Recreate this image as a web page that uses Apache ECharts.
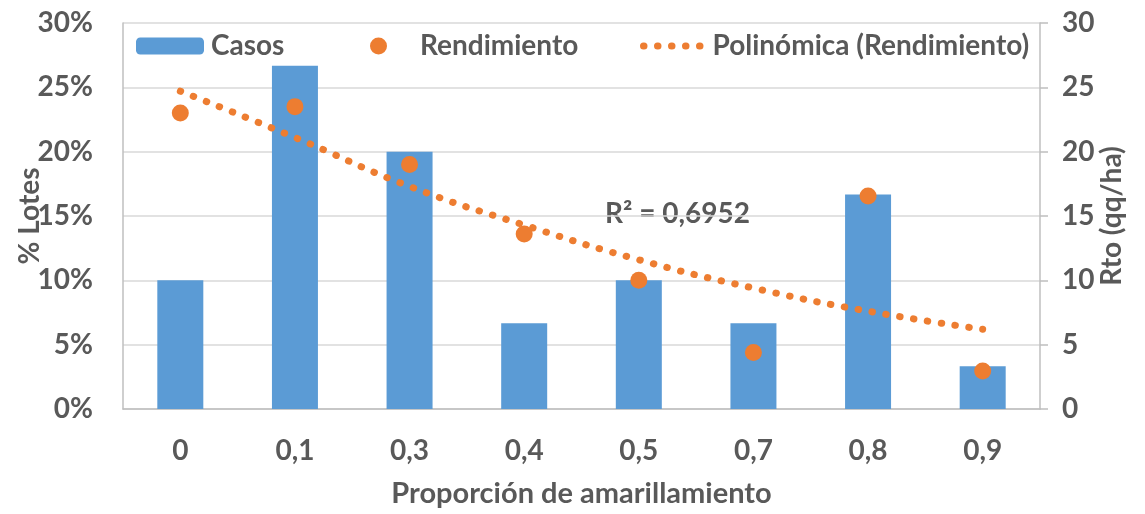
<!DOCTYPE html>
<html><head><meta charset="utf-8">
<script src="https://cdn.jsdelivr.net/npm/echarts@6/dist/echarts.min.js"></script>
<style>html,body{margin:0;padding:0;background:#fff}#c{width:1145px;height:514px}</style>
</head><body><div id="c"></div>
<script>
const categories = ['0','0,1','0,3','0,4','0,5','0,7','0,8','0,9'];
const casos = [10, 26.67, 20, 6.67, 10, 6.67, 16.67, 3.33];
const rendimiento = [23.0, 23.5, 19.0, 13.6, 10.0, 4.4, 16.55, 2.95];
const tendencia = [24.7, 21.1, 17.3, 14.3, 11.6, 9.4, 7.6, 6.2];
const leftTicks = [0, 5, 10, 15, 20, 25, 30];
const rightTicks = [0, 5, 10, 15, 20, 25, 30];
const r2Text = 'R² = 0,6952';

const FONT = 'Lato';
const TXT = '#595959';
const chart = echarts.init(document.getElementById('c'), null, {renderer:'canvas'});
const lf = {fontFamily: FONT, fontWeight: 'bold', fontSize: 28, color: TXT};
const dotLine = {color: '#ed7d31', width: 7, type: [0.5, 13.5], cap: 'round'};
chart.setOption({
  animation: false,
  textStyle: {fontFamily: FONT},
  grid: {left: 123, right: 105, top: 23, bottom: 105, containLabel: false, outerBoundsMode: 'none'},
  legend: [
    {data: ['Casos'], left: 131, top: 27, itemWidth: 68, itemHeight: 17, textStyle: {...lf, padding: [0,0,0,2]}},
    {data: [{name:'Rendimiento', icon:'circle'}], left: 365, top: 27, itemWidth: 17, itemHeight: 17,
     itemStyle: {color: '#ed7d31', opacity: 1}, textStyle: {...lf, padding: [0,0,0,28]}},
    {data: ['Polinómica (Rendimiento)'], left: 635, top: 27, itemWidth: 62, itemHeight: 17,
     itemStyle: {opacity: 0}, lineStyle: {...dotLine}, textStyle: {...lf, padding: [0,0,0,2]}}
  ],
  xAxis: {
    type: 'category', data: categories,
    name: 'Proporción de amarillamiento', nameLocation: 'middle', nameGap: 70,
    nameTextStyle: {...lf, fontSize: 29},
    axisLine: {lineStyle: {color: '#bfbfbf', width: 1.5}},
    axisTick: {show: false},
    axisLabel: {...lf, margin: 28}
  },
  yAxis: [
    {type: 'value', min: 0, max: 30, interval: 5, position: 'left',
     name: '% Lotes', nameLocation: 'middle', nameGap: 79, nameRotate: 90, nameMoveOverlap: false,
     nameTextStyle: {...lf},
     axisLine: {show: true, lineStyle: {color: '#bfbfbf', width: 1.5}},
     axisTick: {show: false},
     axisLabel: {...lf, margin: 30, formatter: v => leftTicks.includes(v) ? v + '%' : ''},
     splitLine: {lineStyle: {color: '#d9d9d9', width: 1.5}}},
    {type: 'value', min: 0, max: 30, interval: 5, position: 'right',
     name: 'Rto (qq/ha)', nameLocation: 'middle', nameGap: 58, nameRotate: 90, nameMoveOverlap: false,
     nameTextStyle: {...lf},
     axisLine: {show: true, lineStyle: {color: '#bfbfbf', width: 1.5}},
     axisTick: {show: true, length: 8, lineStyle: {color: '#bfbfbf', width: 1.5}},
     axisLabel: {...lf, margin: 22, formatter: v => rightTicks.includes(v) ? String(v) : ''},
     splitLine: {show: false}}
  ],
  graphic: [{type: 'text', left: 605, top: 200, style: {text: r2Text, font: 'bold 28px ' + FONT, fill: TXT}}],
  series: [
    {name: 'Casos', type: 'bar', yAxisIndex: 0, data: casos, barWidth: 46,
     itemStyle: {color: '#5b9bd5'}},
    {name: 'Rendimiento', type: 'scatter', yAxisIndex: 1, data: rendimiento, symbolSize: 17,
     itemStyle: {color: '#ed7d31', opacity: 1}, z: 5},
    {name: 'Polinómica (Rendimiento)', type: 'line', yAxisIndex: 1, data: tendencia, smooth: true,
     symbol: 'none', z: 4,
     itemStyle: {color: '#ed7d31'},
     lineStyle: {...dotLine}}
  ]
});
</script></body></html>
